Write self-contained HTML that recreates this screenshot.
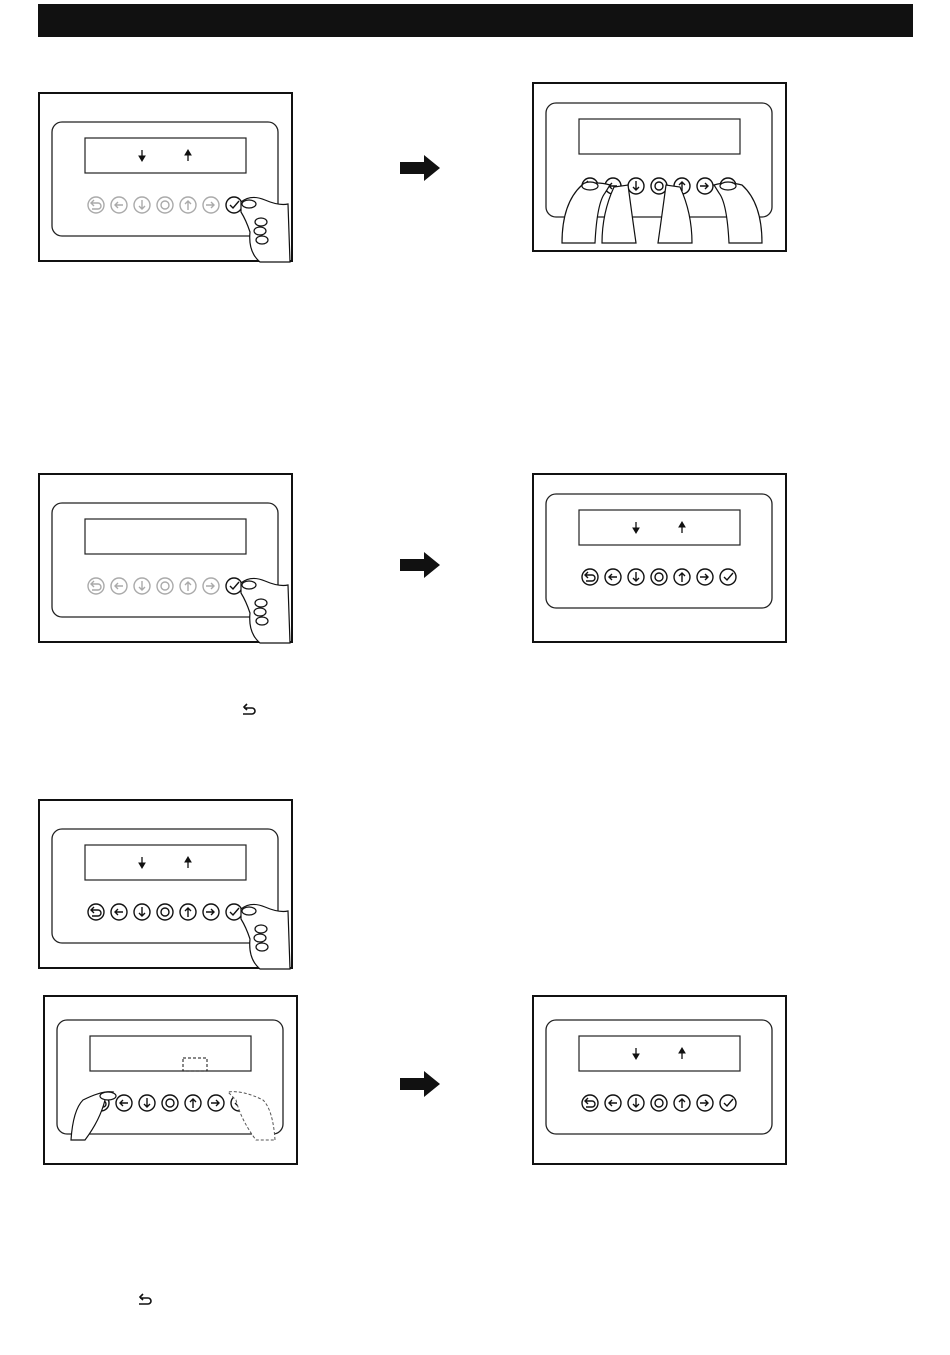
<!DOCTYPE html>
<html><head><meta charset="utf-8"><style>
html,body{margin:0;padding:0;background:#fff;width:950px;height:1355px;overflow:hidden}
</style></head><body>
<svg width="950" height="1355" viewBox="0 0 950 1355" xmlns="http://www.w3.org/2000/svg">
<defs>
<g id="frame"><rect x="1" y="1" width="253" height="168" fill="#fff" stroke="#111" stroke-width="2"/></g>
<g id="inner" fill="none" stroke="#222">
  <rect x="14" y="30" width="226" height="114" rx="10" stroke-width="1.3"/>
  <rect x="47" y="46" width="161" height="35" stroke-width="1.2"/>
</g>
<g id="darr" fill="#111" stroke="#111"><line x1="104" y1="58" x2="104" y2="66" stroke-width="1.3"/><path d="M101 64 L107 64 L104 69Z"/>
  <line x1="150" y1="61" x2="150" y2="69" stroke-width="1.3"/><path d="M147 63 L153 63 L150 58Z"/></g>
<g id="btns" fill="none" stroke="currentColor" stroke-width="1.4">
  <circle cx="58" cy="113" r="8"/><path d="M54 111 h6 a3 3 0 0 1 0 6 h-6 M56 108 l-3 3 l3 3"/>
  <circle cx="81" cy="113" r="8"/><path d="M77 113 h8 M80 110 l-3 3 l3 3"/>
  <circle cx="104" cy="113" r="8"/><path d="M104 108 v9 M101 114 l3 3 l3 -3"/>
  <circle cx="127" cy="113" r="8"/><circle cx="127" cy="113" r="4"/>
  <circle cx="150" cy="113" r="8"/><path d="M150 118 v-9 M147 112 l3 -3 l3 3"/>
  <circle cx="173" cy="113" r="8"/><path d="M168 113 h8 M173 110 l3 3 l-3 3"/>
  <circle cx="196" cy="113" r="8" stroke="#111"/><path d="M192 113 l3 3 l6 -7" stroke="#111"/>
</g>
<g id="hand" fill="#fff" stroke="#111" stroke-width="1.2">
  <path d="M203 110 q10 -8 24 -2 q14 6 23 4 l2 58 l-30 0 q-12 -10 -10 -30 q-4 -12 -9 -20 z"/>
  <ellipse cx="223" cy="130" rx="6" ry="4"/><ellipse cx="222" cy="139" rx="6" ry="4"/><ellipse cx="224" cy="148" rx="6" ry="4"/>
  <ellipse cx="211" cy="112" rx="7" ry="4"/>
</g>
<g id="arrowR"><path d="M0 -6 H24 V-13 L40 0 L24 13 V6 H0 Z" fill="#111"/></g>
</defs>

<rect x="38" y="4" width="875" height="33" fill="#111"/>

<!-- A -->
<g transform="translate(38,92)"><use href="#frame"/><use href="#inner"/><use href="#darr"/><use href="#btns" color="#aaa"/><use href="#hand"/></g>
<use href="#arrowR" transform="translate(400,168)"/>
<!-- B -->
<g transform="translate(532,82)"><use href="#frame"/>
  <g transform="translate(0,-9)"><use href="#inner"/><use href="#btns" color="#111"/>
  <g fill="#fff" stroke="#111" stroke-width="1.2">
    <path d="M30 170 q0 -40 20 -58 q15 -4 28 0 l-5 8 q-8 10 -10 50z"/>
    <ellipse cx="58" cy="113" rx="8" ry="4"/>
    <path d="M70 170 q0 -30 12 -56 l14 -2 q4 30 8 58z"/>
    <path d="M160 170 q0 -30 -12 -56 l-14 -2 q-4 30 -8 58z"/>
    <path d="M230 170 q0 -40 -20 -58 q-15 -4 -28 0 l5 8 q8 10 10 50z"/>
    <ellipse cx="196" cy="113" rx="8" ry="4"/>
  </g></g>
</g>

<!-- C -->
<g transform="translate(38,473)"><use href="#frame"/><use href="#inner"/><use href="#btns" color="#aaa"/><use href="#hand"/></g>
<use href="#arrowR" transform="translate(400,565)"/>
<!-- D -->
<g transform="translate(532,473)"><use href="#frame"/><g transform="translate(0,-9)"><use href="#inner"/><use href="#darr"/><use href="#btns" color="#111"/></g></g>

<path d="M244 708 h8 a3 3 0 0 1 0 6 h-9 M247 704 l-3 3 l3 3" fill="none" stroke="#111" stroke-width="1.6"/>

<!-- E -->
<g transform="translate(38,799)"><use href="#frame"/><use href="#inner"/><use href="#darr"/><use href="#btns" color="#111"/><use href="#hand"/></g>

<!-- F -->
<g transform="translate(43,995)"><use href="#frame"/><g transform="translate(0,-5)"><use href="#inner"/><use href="#btns" color="#111"/>
  <rect x="140" y="68" width="24" height="13" fill="none" stroke="#111" stroke-dasharray="3,2"/>
  <g fill="#fff" stroke="#111" stroke-width="1.2">
    <path d="M28 150 q2 -30 12 -40 q20 -10 30 -8 l-8 8 q-5 20 -20 40z"/>
    <ellipse cx="65" cy="106" rx="8" ry="4"/>
  </g>
  <g fill="#fff" stroke="#555" stroke-width="1" stroke-dasharray="3,2">
    <path d="M232 150 q-2 -30 -12 -40 q-20 -10 -35 -8 l8 8 q5 20 20 40z"/>
  </g></g>
</g>
<use href="#arrowR" transform="translate(400,1084)"/>
<!-- G -->
<g transform="translate(532,995)"><use href="#frame"/><g transform="translate(0,-5)"><use href="#inner"/><use href="#darr"/><use href="#btns" color="#111"/></g></g>

<path d="M140 1298 h8 a3 3 0 0 1 0 6 h-9 M143 1294 l-3 3 l3 3" fill="none" stroke="#111" stroke-width="1.6"/>
</svg>
</body></html>
